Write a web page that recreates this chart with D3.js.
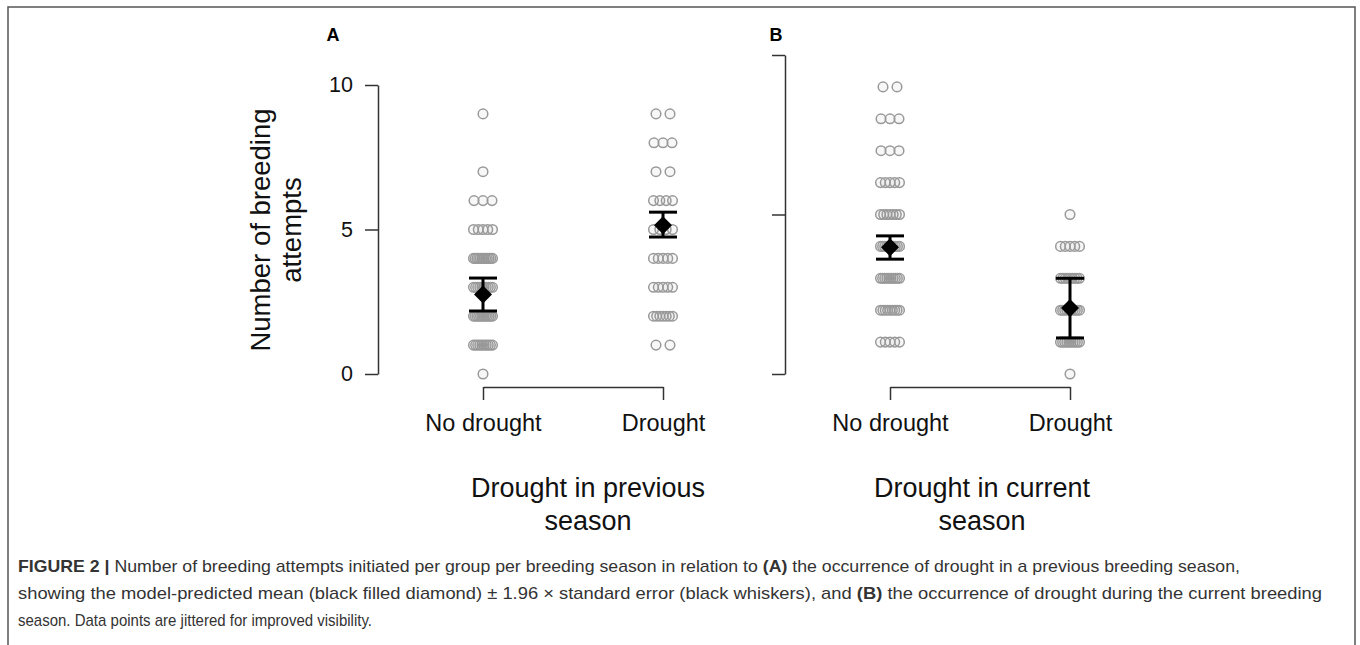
<!DOCTYPE html>
<html>
<head>
<meta charset="utf-8">
<script src="https://cdn.jsdelivr.net/npm/d3@7"></script>
<style>
  html, body { margin: 0; padding: 0; background: #fff; }
  svg { display: block; }
  text { font-family: "Liberation Sans", Arial, Helvetica, sans-serif; }
</style>
</head>
<body>
<svg id="chart" width="1360" height="645"></svg>
<script>
// ---------------- data ----------------
const categories = ["No drought", "Drought"];
const yTicks = [0, 5, 10];

// Panel A: drought in previous season — counts of groups at each number of attempts
const prevNoDroughtValues = [9, 7, 6, 5, 4, 3, 2, 1, 0];
const prevNoDroughtCounts = [1, 1, 3, 5, 12, 10, 12, 10, 1];
const prevDroughtValues = [9, 8, 7, 6, 5, 4, 3, 2, 1];
const prevDroughtCounts = [2, 3, 2, 4, 4, 5, 5, 7, 2];

// Panel B: drought in current season
const currNoDroughtValues = [9, 8, 7, 6, 5, 4, 3, 2, 1];
const currNoDroughtCounts = [2, 3, 3, 5, 7, 10, 10, 9, 5];
const currDroughtValues = [5, 4, 3, 2, 1, 0];
const currDroughtCounts = [1, 5, 9, 10, 10, 1];

// model-predicted means and ±1.96 SE limits [No drought, Drought]
const prevMeans = [2.75, 5.15];
const prevLower = [2.18, 4.74];
const prevUpper = [3.32, 5.60];
const currMeans = [3.97, 2.07];
const currLower = [3.60, 1.13];
const currUpper = [4.33, 3.00];

const panelLabels = ["A", "B"];
const xTitles = [["Drought in previous", "season"], ["Drought in current", "season"]];
const yTitle = ["Number of breeding", "attempts"];

// ---------------- drawing ----------------
const svg = d3.select("#chart");
const axisColor = "#333";
const pointColor = "#999";

// frame
svg.append("rect").attr("x", 8).attr("y", 7).attr("width", 1347).attr("height", 660)
  .attr("fill", "none").attr("stroke", "#555").attr("stroke-width", 1.5);

const panels = [
  { x0: 483, x1: 663, yTop: 85, showLabels: true, axisX: 378, labelX: 333, titleX: 588,
    groups: [[prevNoDroughtValues, prevNoDroughtCounts], [prevDroughtValues, prevDroughtCounts]],
    means: prevMeans, lower: prevLower, upper: prevUpper },
  { x0: 890, x1: 1070, yTop: 55, showLabels: false, axisX: 785, labelX: 776, titleX: 982,
    groups: [[currNoDroughtValues, currNoDroughtCounts], [currDroughtValues, currDroughtCounts]],
    means: currMeans, lower: currLower, upper: currUpper }
];

panels.forEach((p, pi) => {
  const x = d3.scalePoint().domain(categories).range([p.x0, p.x1]);
  const y = d3.scaleLinear().domain([0, 10]).range([374, p.yTop]);
  const g = svg.append("g");

  // y axis
  const ya = d3.axisLeft(y).tickValues(yTicks).tickSize(13).tickSizeOuter(0).tickPadding(12);
  if (!p.showLabels) ya.tickFormat("");
  const yg = g.append("g").attr("transform", `translate(${p.axisX},0)`).call(ya);
  yg.select(".domain").attr("stroke", axisColor).attr("stroke-width", 1.5);
  yg.selectAll(".tick line").attr("stroke", axisColor).attr("stroke-width", 1.5);
  yg.selectAll(".tick text").attr("font-size", 21.5).attr("fill", "#111")
    .attr("font-family", "Liberation Sans, Arial, sans-serif");

  // x axis
  const xa = d3.axisBottom(x).tickSize(13).tickSizeOuter(0).tickPadding(14);
  const xg = g.append("g").attr("transform", `translate(0,387)`).call(xa);
  xg.select(".domain").attr("stroke", axisColor).attr("stroke-width", 1.5);
  xg.selectAll(".tick line").attr("stroke", axisColor).attr("stroke-width", 1.5);
  xg.selectAll(".tick text").attr("font-size", 23.5).attr("fill", "#111")
    .attr("font-family", "Liberation Sans, Arial, sans-serif");

  // jittered points
  p.groups.forEach(([vals, counts], ci) => {
    const cx = x(categories[ci]);
    vals.forEach((v, k) => {
      const n = counts[k];
      const w = n > 1 ? Math.min(9.5, 3 + 2 * n) : 0;
      for (let j = 0; j < n; j++) {
        const off = n > 1 ? -w + (2 * w * j) / (n - 1) : 0;
        g.append("circle").attr("cx", cx + off).attr("cy", y(v)).attr("r", 4.8)
          .attr("fill", pointColor).attr("fill-opacity", 0.08)
          .attr("stroke", pointColor).attr("stroke-width", 1.5);
      }
    });
  });

  // means and whiskers
  categories.forEach((c, ci) => {
    const cx = x(c);
    g.append("line").attr("x1", cx).attr("x2", cx)
      .attr("y1", y(p.lower[ci])).attr("y2", y(p.upper[ci]))
      .attr("stroke", "#000").attr("stroke-width", 3);
    [p.lower[ci], p.upper[ci]].forEach(v => {
      g.append("line").attr("x1", cx - 14).attr("x2", cx + 14)
        .attr("y1", y(v)).attr("y2", y(v)).attr("stroke", "#000").attr("stroke-width", 3);
    });
    const my = y(p.means[ci]);
    g.append("path").attr("d", `M${cx},${my - 9}L${cx + 9},${my}L${cx},${my + 9}L${cx - 9},${my}Z`)
      .attr("fill", "#000");
  });

  // panel label
  svg.append("text").attr("x", p.labelX).attr("y", 41).attr("text-anchor", "middle")
    .attr("font-size", 18).attr("font-weight", "bold").attr("fill", "#000").text(panelLabels[pi]);

  // x title
  xTitles[pi].forEach((t, li) => {
    svg.append("text").attr("x", p.titleX).attr("y", 497 + li * 33).attr("text-anchor", "middle")
      .attr("font-size", 27).attr("fill", "#111").text(t);
  });
});

// y title
yTitle.forEach((t, li) => {
  svg.append("text").attr("transform", `translate(${270 + li * 31},230) rotate(-90)`)
    .attr("text-anchor", "middle").attr("font-size", 27.5).attr("fill", "#111").text(t);
});

// caption
const capColor = "#333";
const capLines = [
  { len: 1222, parts: [["FIGURE 2 |", true], [" Number of breeding attempts initiated per group per breeding season in relation to ", false], ["(A)", true], [" the occurrence of drought in a previous breeding season,", false]] },
  { len: 1304, parts: [["showing the model-predicted mean (black filled diamond) \u00B1 1.96 \u00D7 standard error (black whiskers), and ", false], ["(B)", true], [" the occurrence of drought during the current breeding", false]] },
  { len: 354, parts: [["season. Data points are jittered for improved visibility.", false]] }
];
capLines.forEach((ln, i) => {
  const t = svg.append("text").attr("x", 18).attr("y", 572 + i * 27)
    .attr("font-size", 17).attr("fill", capColor)
    .attr("textLength", ln.len).attr("lengthAdjust", "spacingAndGlyphs");
  ln.parts.forEach(([s, b]) => {
    t.append("tspan").attr("font-weight", b ? "bold" : "normal").text(s);
  });
});
</script>
</body>
</html>
